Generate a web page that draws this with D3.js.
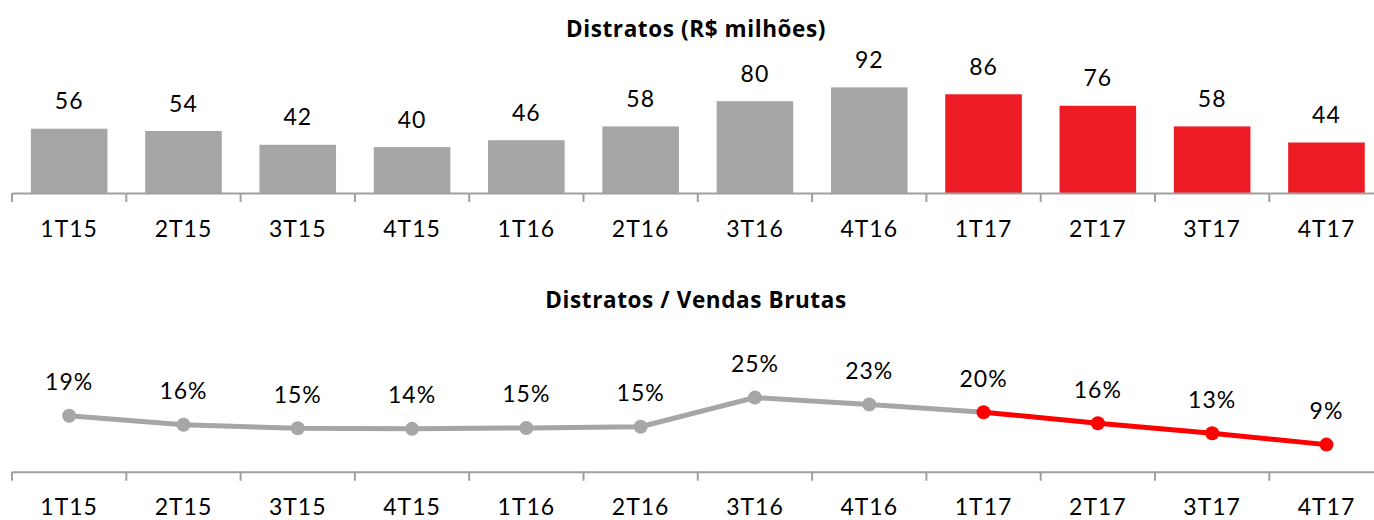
<!DOCTYPE html>
<html>
<head>
<meta charset="utf-8">
<script src="https://cdn.jsdelivr.net/npm/d3@7"></script>
<style>
    body { margin: 0; background: #fff; }
    svg { display: block; font-family: Lato, 'Open Sans', sans-serif; }
</style>
</head>
<body>
<svg id="chart" width="1374" height="520"></svg>
<script>
// quarters (shared by both panels)
const quarters = ['1T15', '2T15', '3T15', '4T15', '1T16', '2T16', '3T16', '4T16', '1T17', '2T17', '3T17', '4T17'];
// Distratos, R$ milhões
const distratos = [56, 54, 42, 40, 46, 58, 80, 92, 86, 76, 58, 44];
// Distratos / Vendas Brutas, %
const ratio = [18.8, 15.8, 14.6, 14.4, 14.7, 15.1, 24.9, 22.6, 20.0, 16.3, 12.9, 9.1];
const ratioLabels = ['19%', '16%', '15%', '14%', '15%', '15%', '25%', '23%', '20%', '16%', '13%', '9%'];
const highlightFrom = '1T17';

const grey = '#a6a6a6';
const redBar = '#ed1c24';
const redLine = '#ff0000';
const axisColor = '#a0a0a0';

const svg = d3.select('#chart');

var x = d3
    .scaleBand()
    .domain(quarters)
    .range([12, 1383.6])
    .paddingInner(0.33)
    .paddingOuter(0.165);

const isHighlight = (q) => quarters.indexOf(q) >= quarters.indexOf(highlightFrom);

function drawAxis(baseY) {
    const g = svg
        .append('g')
        .attr('transform', `translate(0,${baseY})`)
        .call(d3.axisBottom(x).tickSize(0).tickSizeOuter(0));
    g.select('.domain').attr('stroke', axisColor).attr('stroke-width', 2);
    g.selectAll('text')
        .attr('y', 43.5)
        .attr('dy', 0)
        .attr('fill', '#000')
        .style('font-size', '23px')
        .style('letter-spacing', '1px')
        .style('font-family', 'Lato, sans-serif');

    // ticks sit between categories, not at their centres
    const half = (x.step() - x.bandwidth()) / 2;
    const edges = quarters.map((q) => x(q) - half);
    edges.push(x(quarters[quarters.length - 1]) + x.bandwidth() + half);
    g.selectAll('.edge')
        .data(edges)
        .enter()
        .append('line')
        .attr('class', 'edge')
        .attr('x1', (d) => d)
        .attr('x2', (d) => d)
        .attr('y1', 0)
        .attr('y2', 9)
        .attr('stroke', axisColor)
        .attr('stroke-width', 2);
}

function title(text, y) {
    svg.append('text')
        .attr('x', 696)
        .attr('y', y)
        .attr('text-anchor', 'middle')
        .style('font-family', "'Open Sans', sans-serif")
        .style('font-size', '22.5px')
        .style('font-weight', 'bold')
        .style('letter-spacing', '0.6px')
        .text(text);
}

// ---------- top panel: bars ----------
title('Distratos (R$ milhões)', 37);

const barBase = 193;
var yBar = d3.scaleLinear().domain([0, 100]).range([barBase, barBase - 114.8]);

svg.append('g')
    .selectAll('rect')
    .data(quarters)
    .enter()
    .append('rect')
    .attr('x', (q) => x(q))
    .attr('width', x.bandwidth())
    .attr('y', (q, i) => yBar(distratos[i]))
    .attr('height', (q, i) => barBase - yBar(distratos[i]))
    .attr('fill', (q) => (isHighlight(q) ? redBar : grey));

svg.append('g')
    .selectAll('text')
    .data(quarters)
    .enter()
    .append('text')
    .attr('x', (q) => x(q) + x.bandwidth() / 2)
    .attr('y', (q, i) => yBar(distratos[i]) - 19.5)
    .attr('text-anchor', 'middle')
    .style('font-size', '23px')
    .style('letter-spacing', '1px')
    .text((q, i) => distratos[i]);

drawAxis(barBase);

// ---------- bottom panel: line ----------
title('Distratos / Vendas Brutas', 308);

const lineBase = 471.7;
var yLine = d3.scaleLinear().domain([0, 25]).range([lineBase, 397.3]);

const pts = quarters.map((q, i) => ({ q: q, v: ratio[i], label: ratioLabels[i] }));
const cx = (d) => x(d.q) + x.bandwidth() / 2;
const line = d3.line().x(cx).y((d) => yLine(d.v));
const split = quarters.indexOf(highlightFrom);

svg.append('path')
    .datum(pts.slice(0, split + 1))
    .attr('d', line)
    .attr('fill', 'none')
    .attr('stroke', grey)
    .attr('stroke-width', 5);

svg.append('path')
    .datum(pts.slice(split))
    .attr('d', line)
    .attr('fill', 'none')
    .attr('stroke', redLine)
    .attr('stroke-width', 5);

svg.append('g')
    .selectAll('circle')
    .data(pts)
    .enter()
    .append('circle')
    .attr('cx', cx)
    .attr('cy', (d) => yLine(d.v))
    .attr('r', 7)
    .attr('fill', (d) => (isHighlight(d.q) ? redLine : grey));

svg.append('g')
    .selectAll('text')
    .data(pts)
    .enter()
    .append('text')
    .attr('x', cx)
    .attr('y', (d) => yLine(d.v) - 25.5)
    .attr('text-anchor', 'middle')
    .style('font-size', '23px')
    .style('letter-spacing', '1px')
    .text((d) => d.label);

drawAxis(lineBase);
</script>
</body>
</html>
